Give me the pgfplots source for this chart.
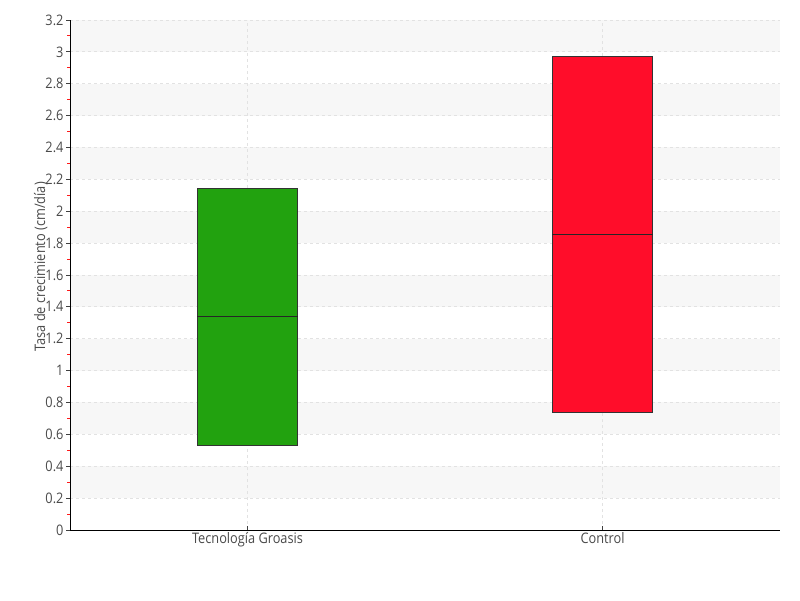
\documentclass[border=0pt]{standalone}
\usepackage{fontspec}
\setmainfont{Open Sans}[FakeStretch=0.88]
\usepackage{pgfplots}
\pgfplotsset{compat=1.18}
\definecolor{txt}{HTML}{4A4A4A}
\definecolor{gfill}{HTML}{22A20F}
\definecolor{rfill}{HTML}{FF0D2A}
\definecolor{band}{HTML}{F7F7F7}
\definecolor{gridc}{HTML}{E2E2E2}
\begin{document}
\begin{tikzpicture}
\begin{axis}[
  at={(70pt,70pt)}, anchor=south west,
  scale only axis, width=710pt, height=510pt,
  set layers,
  xmin=0.5, xmax=2.5, ymin=0, ymax=3.2,
  axis lines*=left, axis line style={black, line width=0.8pt},
  xtick={1,2}, xticklabels={Tecnología Groasis, Control},
  ytick={0,0.2,0.4,0.6,0.8,1,1.2,1.4,1.6,1.8,2,2.2,2.4,2.6,2.8,3,3.2},
  yticklabels={0,0.2,0.4,0.6,0.8,1,1.2,1.4,1.6,1.8,2,2.2,2.4,2.6,2.8,3,3.2},
  /pgf/number format/assume math mode=true,
  minor y tick num=1,
  ytick align=outside, xtick align=inside,
  major tick length=4pt, minor tick length=3pt,
  every major tick/.append style={black!75, line width=0.8pt},
  every minor tick/.append style={red!90, line width=0.9pt},
  ymajorgrids, xmajorgrids,
  major grid style={gridc, dashed, line width=0.8pt},
  tick label style={font=\fontsize{14.5}{16}\selectfont, text=txt},
  xticklabel style={yshift=1pt},
  yticklabel style={xshift=1pt},
  ylabel={Tasa de crecimiento (cm/día)},
  ylabel style={font=\fontsize{14.5}{16}\selectfont, text=txt,
    at={(axis description cs:-0.027,0.516)}, anchor=south},
]
\addplot[fill=band, draw=none, on layer=axis background] coordinates {(0.5,0.2) (2.5,0.2) (2.5,0.4) (0.5,0.4)} -- cycle;
\addplot[fill=band, draw=none, on layer=axis background] coordinates {(0.5,0.6) (2.5,0.6) (2.5,0.8) (0.5,0.8)} -- cycle;
\addplot[fill=band, draw=none, on layer=axis background] coordinates {(0.5,1.0) (2.5,1.0) (2.5,1.2) (0.5,1.2)} -- cycle;
\addplot[fill=band, draw=none, on layer=axis background] coordinates {(0.5,1.4) (2.5,1.4) (2.5,1.6) (0.5,1.6)} -- cycle;
\addplot[fill=band, draw=none, on layer=axis background] coordinates {(0.5,1.8) (2.5,1.8) (2.5,2.0) (0.5,2.0)} -- cycle;
\addplot[fill=band, draw=none, on layer=axis background] coordinates {(0.5,2.2) (2.5,2.2) (2.5,2.4) (0.5,2.4)} -- cycle;
\addplot[fill=band, draw=none, on layer=axis background] coordinates {(0.5,2.6) (2.5,2.6) (2.5,2.8) (0.5,2.8)} -- cycle;
\addplot[fill=band, draw=none, on layer=axis background] coordinates {(0.5,3.0) (2.5,3.0) (2.5,3.2) (0.5,3.2)} -- cycle;
% Tecnologia Groasis
\addplot[fill=gfill, draw=black!80, line width=0.9pt] coordinates {(0.859,0.529) (1.141,0.529) (1.141,2.144) (0.859,2.144)} -- cycle;
\addplot[draw=black!85, line width=1pt] coordinates {(0.859,1.338) (1.141,1.338)};
% Control
\addplot[fill=rfill, draw=black!80, line width=0.9pt] coordinates {(1.859,0.738) (2.141,0.738) (2.141,2.974) (1.859,2.974)} -- cycle;
\addplot[draw=black!85, line width=1pt] coordinates {(1.859,1.857) (2.141,1.857)};
\end{axis}
\path (0pt,0pt) rectangle (800pt,600pt);
\end{tikzpicture}
\end{document}
